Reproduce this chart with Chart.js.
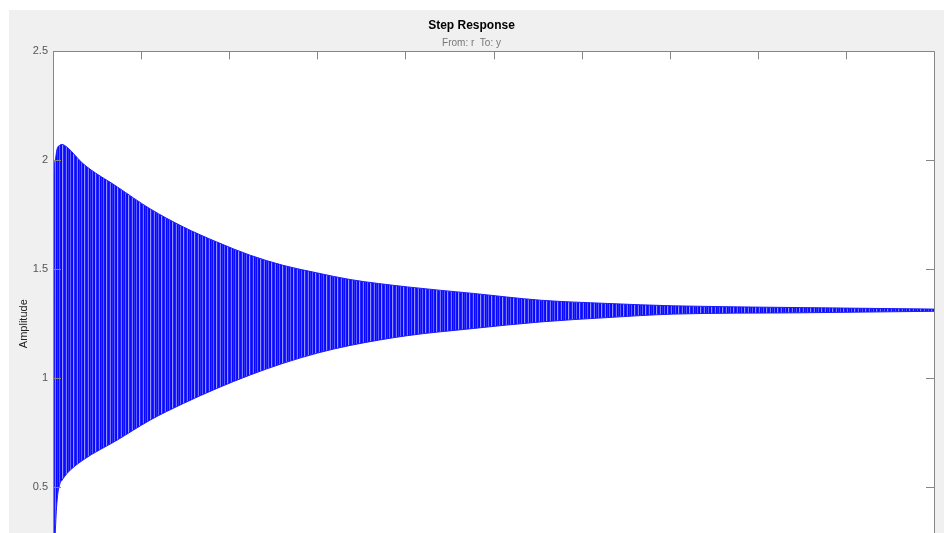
<!DOCTYPE html>
<html>
<head>
<meta charset="utf-8">
<script src="https://cdn.jsdelivr.net/npm/chart.js@4/dist/chart.umd.min.js"></script>
<style>
  html, body { margin: 0; padding: 0; background: #fff; overflow: hidden; height: 533px; }
  #wrap { position: absolute; left: 9px; top: 10px; width: 935px; height: 640px; background: #f0f0f0; }
</style>
</head>
<body>
<div id="wrap"><canvas id="step"></canvas></div>
<script>
// envelope of the oscillating step response
const time = [0, 0.01, 0.025, 0.045, 0.08, 0.10, 0.16, 0.34, 0.73, 1.10, 1.48, 1.86, 2.24, 2.61, 3.00, 3.37, 4.02, 4.77, 5.53, 6.29, 7.04, 8.48, 10];
const upper = [0, 1.88, 2.00, 2.05, 2.07, 2.073, 2.06, 1.985, 1.878, 1.778, 1.694, 1.625, 1.564, 1.518, 1.483, 1.453, 1.419, 1.389, 1.358, 1.343, 1.332, 1.324, 1.317];
const lower = [0, 0.05, 0.28, 0.431, 0.518, 0.53, 0.563, 0.624, 0.716, 0.807, 0.884, 0.953, 1.015, 1.068, 1.115, 1.150, 1.195, 1.228, 1.258, 1.278, 1.294, 1.300, 1.307];
const yTicks = [0, 0.5, 1, 1.5, 2, 2.5];

const font = "'Liberation Sans', Arial, sans-serif";

document.addEventListener("DOMContentLoaded", () => {
    const canvas = document.getElementById('step');

    // vertical stripes to imitate the dense oscillation
    const stripes = ['#0a0aff', '#1c1cff', '#7a7aff', '#0606ff', '#2e2eff', '#0a0aff', '#6060ff', '#1010ff', '#0404ff', '#9494ff', '#2424ff'];
    const pc = document.createElement('canvas');
    pc.width = stripes.length;
    pc.height = 1;
    const pctx = pc.getContext('2d');
    stripes.forEach((c, i) => { pctx.fillStyle = c; pctx.fillRect(i, 0, 1, 1); });
    const pattern = canvas.getContext('2d').createPattern(pc, 'repeat');

    const matlabBox = {
        id: 'matlabBox',
        beforeDraw(chart) {
            const a = chart.chartArea, ctx = chart.ctx;
            ctx.save();
            ctx.fillStyle = '#fff';
            ctx.fillRect(a.left, a.top, a.right - a.left, a.bottom - a.top);
            ctx.restore();
        },
        afterDraw(chart) {
            const a = chart.chartArea, ctx = chart.ctx;
            const xs = chart.scales.x, ys = chart.scales.y;
            const len = 8;
            ctx.save();
            ctx.strokeStyle = '#868686';
            ctx.lineWidth = 1;
            ctx.beginPath();
            ctx.rect(Math.round(a.left) + 0.5, Math.round(a.top) + 0.5, Math.round(a.right - a.left), Math.round(a.bottom - a.top));
            xs.ticks.forEach(t => {
                const px = Math.round(xs.getPixelForValue(t.value)) + 0.5;
                ctx.moveTo(px, a.top); ctx.lineTo(px, a.top + len);
                ctx.moveTo(px, a.bottom); ctx.lineTo(px, a.bottom - len);
            });
            ys.ticks.forEach(t => {
                const py = Math.round(ys.getPixelForValue(t.value)) + 0.5;
                ctx.moveTo(a.left, py); ctx.lineTo(a.left + len, py);
                ctx.moveTo(a.right, py); ctx.lineTo(a.right - len, py);
            });
            ctx.stroke();
            ctx.restore();
        }
    };

    new Chart(canvas, {
        type: 'line',
        data: {
            datasets: [
                {
                    label: 'upper',
                    data: time.map((t, i) => ({ x: t, y: upper[i] })),
                    borderColor: '#1a1aff',
                    borderWidth: 1,
                    pointRadius: 0,
                    cubicInterpolationMode: 'monotone',
                    fill: false
                },
                {
                    label: 'lower',
                    data: time.map((t, i) => ({ x: t, y: lower[i] })),
                    borderColor: '#1a1aff',
                    borderWidth: 1,
                    pointRadius: 0,
                    cubicInterpolationMode: 'monotone',
                    backgroundColor: pattern,
                    fill: '-1'
                }
            ]
        },
        options: {
            responsive: true,
            maintainAspectRatio: false,
            animation: false,
            layout: { padding: { left: 0, right: 10, top: 0, bottom: 0 } },
            plugins: {
                legend: { display: false },
                tooltip: { enabled: false },
                title: {
                    display: true,
                    text: 'Step Response',
                    color: '#000',
                    font: { family: font, size: 12, weight: 'bold' },
                    padding: { top: 8, bottom: 2 }
                },
                subtitle: {
                    display: true,
                    text: 'From: r  To: y',
                    color: '#777',
                    font: { family: font, size: 10 },
                    padding: { top: 3, bottom: 2 }
                }
            },
            scales: {
                x: {
                    type: 'linear',
                    min: 0,
                    max: 10,
                    ticks: { stepSize: 1, color: '#555', font: { family: font, size: 11 } },
                    grid: { drawOnChartArea: false, drawTicks: false },
                    border: { display: false },
                    title: { display: true, text: 'Time (seconds)', color: '#222', font: { family: font, size: 11 } },
                    afterFit: s => { s.height = 54; }
                },
                y: {
                    min: 0,
                    max: 2.5,
                    afterBuildTicks: s => { s.ticks = yTicks.map(v => ({ value: v })); },
                    ticks: { color: '#555', padding: 5, font: { family: font, size: 11 }, callback: v => String(v) },
                    grid: { drawOnChartArea: false, drawTicks: false },
                    border: { display: false },
                    title: { display: true, text: 'Amplitude', color: '#222', font: { family: font, size: 11 }, padding: { top: 8, bottom: 0 } },
                    afterFit: s => { s.width = 44; }
                }
            }
        },
        plugins: [matlabBox]
    });
});
</script>
</body>
</html>
